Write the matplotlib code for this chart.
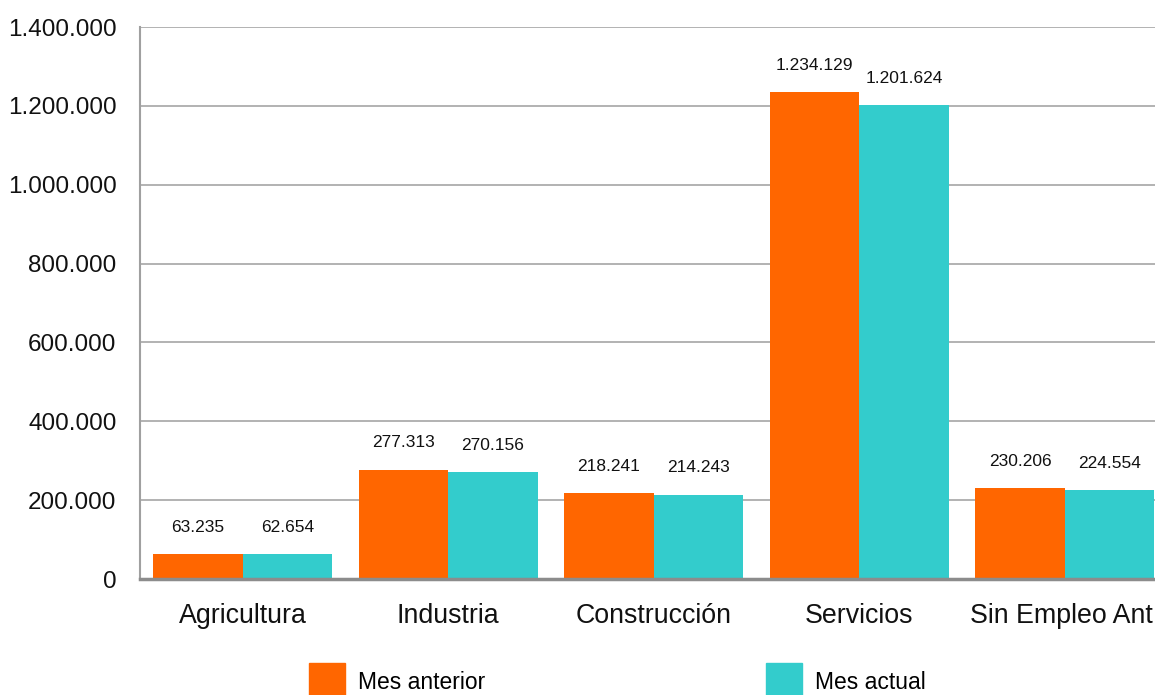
import matplotlib
matplotlib.use("Agg")
import matplotlib.pyplot as plt
from matplotlib.patches import Rectangle
from matplotlib.ticker import FuncFormatter
import numpy as np

categories = ["Agricultura", "Industria", "Construcción", "Servicios", "Sin Empleo Ant."]
series_names = ["Mes anterior", "Mes actual"]
mes_anterior = [63235, 277313, 218241, 1234129, 230206]
mes_actual = [62654, 270156, 214243, 1201624, 224554]
colors = ["#FF6600", "#33CCCC"]
y_ticks = [0, 200000, 400000, 600000, 800000, 1000000, 1200000, 1400000]

plt.rcParams['font.family'] = ['Liberation Sans', 'DejaVu Sans']

W, H = 1155, 695
fig = plt.figure(figsize=(W / 100, H / 100), dpi=100)
# axes extends beyond the right edge (clipped like the reference)
ax_left, ax_bottom, ax_w, ax_h = 140, 116, 1027.5, 552
ax = fig.add_axes([ax_left / W, ax_bottom / H, ax_w / W, ax_h / H])

x = np.arange(len(categories))
bw = 0.435
series = [mes_anterior, mes_actual]
for i, (vals, col) in enumerate(zip(series, colors)):
    pos = x + (i - 0.5) * bw
    bars = ax.bar(pos, vals, width=bw, color=col, zorder=3, label=series_names[i])
    for b, v in zip(bars, vals):
        ax.annotate(f"{v:,}".replace(",", "."), (b.get_x() + b.get_width() / 2, v),
                    xytext=(0, 14), textcoords="offset points",
                    ha="center", va="bottom", fontsize=12.5, color="#111111")

ax.set_xlim(-0.5, len(categories) - 0.5)
ax.set_ylim(0, 1400000)
ax.set_yticks(y_ticks)
ax.yaxis.set_major_formatter(FuncFormatter(lambda v, p: f"{int(v):,}".replace(",", ".")))
ax.set_xticks(x)
ax.set_xticklabels(categories)
ax.tick_params(axis="y", length=0, pad=17, labelsize=17.5, labelcolor="#111111")
ax.tick_params(axis="x", length=0, pad=17.5, labelsize=19.3, labelcolor="#111111")
ax.grid(axis="y", color="#A6A6A6", linewidth=1.2, zorder=0)
ax.set_axisbelow(True)
for s in ["top", "right"]:
    ax.spines[s].set_visible(False)
ax.spines["left"].set_color("#A0A0A0")
ax.spines["left"].set_linewidth(1.5)
ax.spines["bottom"].set_color("#8C8C8C")
ax.spines["bottom"].set_linewidth(2.5)
ax.spines["bottom"].set_zorder(4)

# legend (manual, at bottom, clipped as in the reference)
leg_x = [309, 766]
for lx, name, col in zip(leg_x, series_names, colors):
    fig.add_artist(Rectangle((lx / W, (H - 700) / H), 36 / W, 37 / H,
                             transform=fig.transFigure, color=col))
    fig.text((lx + 49) / W, (H - 671) / H, name, fontsize=16.5, va="top", ha="left",
             color="#000000")

fig.savefig("out.png", dpi=100)
